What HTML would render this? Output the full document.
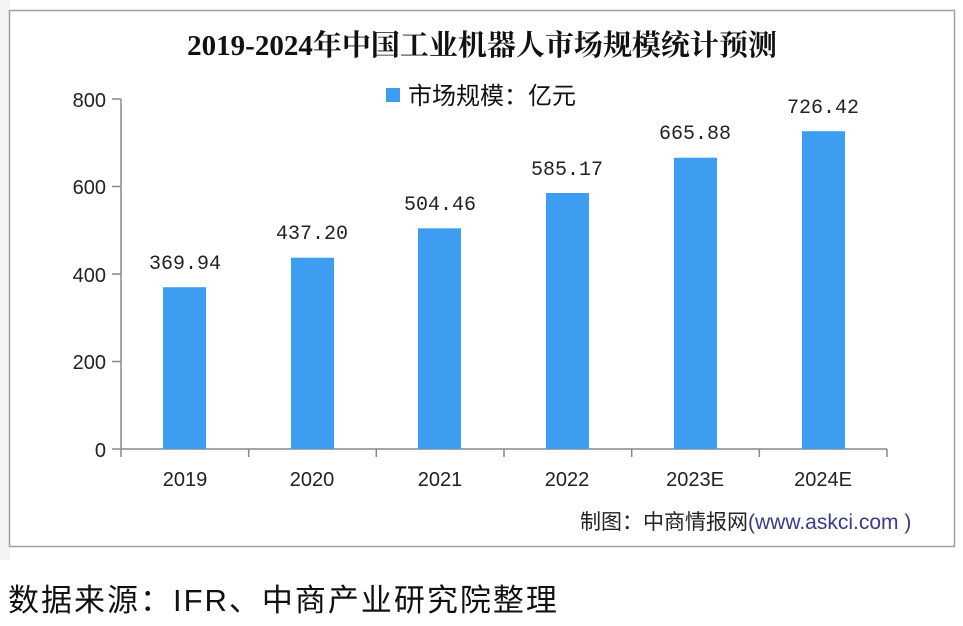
<!DOCTYPE html>
<html><head><meta charset="utf-8"><style>
body{margin:0;width:963px;height:621px;background:#fff;overflow:hidden;font-family:"Liberation Sans","Noto Sans CJK SC",sans-serif}
</style></head><body>
<svg width="963" height="621" xmlns="http://www.w3.org/2000/svg">
<rect x="0" y="0" width="963" height="621" fill="#fff"/>
<rect x="0" y="0" width="10" height="560" fill="#f4f4f4"/>
<rect x="9.5" y="10.5" width="945" height="536" fill="#fff" stroke="#a0a0a0" stroke-width="1.5"/>
<text x="482" y="55" text-anchor="middle" font-family="Liberation Serif,Noto Serif CJK SC,serif" font-weight="bold" font-size="29" fill="#111">2019-2024年中国工业机器人市场规模统计预测</text>
<rect x="386" y="88" width="14" height="14" fill="#3d9df0"/>
<text x="408" y="104" font-size="24" fill="#111">市场规模：亿元</text>
<g stroke="#888" stroke-width="1.5" fill="none">
<line x1="121" y1="99" x2="121" y2="457"/>
<line x1="121" y1="449" x2="887" y2="449"/>
<line x1="112" y1="99" x2="121" y2="99"/><line x1="112" y1="186.5" x2="121" y2="186.5"/>
<line x1="112" y1="274" x2="121" y2="274"/><line x1="112" y1="361.5" x2="121" y2="361.5"/>
<line x1="112" y1="449" x2="121" y2="449"/>
<line x1="248.7" y1="449" x2="248.7" y2="457"/><line x1="376.3" y1="449" x2="376.3" y2="457"/>
<line x1="504" y1="449" x2="504" y2="457"/><line x1="631.7" y1="449" x2="631.7" y2="457"/>
<line x1="759.3" y1="449" x2="759.3" y2="457"/><line x1="887" y1="449" x2="887" y2="457"/>
</g>
<g font-size="20" fill="#222" text-anchor="end">
<text x="106" y="107">800</text><text x="106" y="194">600</text><text x="106" y="282">400</text><text x="106" y="369">200</text><text x="106" y="457">0</text>
</g>
<g fill="#3d9df0">
<rect x="163" y="287.2" width="43" height="161.8"/>
<rect x="291" y="257.7" width="43" height="191.3"/>
<rect x="418" y="228.3" width="43" height="220.7"/>
<rect x="546" y="193" width="43" height="256"/>
<rect x="674" y="157.7" width="43" height="291.3"/>
<rect x="802" y="131.2" width="43" height="317.8"/>
</g>
<g font-family="Liberation Mono,monospace" font-size="20" fill="#222" text-anchor="middle">
<text x="185" y="269">369.94</text><text x="312" y="239">437.20</text><text x="440" y="210">504.46</text>
<text x="567" y="175">585.17</text><text x="695" y="139">665.88</text><text x="823" y="113">726.42</text>
</g>
<g font-size="20" fill="#222" text-anchor="middle">
<text x="185" y="486">2019</text><text x="312" y="486">2020</text><text x="440" y="486">2021</text>
<text x="567" y="486">2022</text><text x="695" y="486">2023E</text><text x="823" y="486">2024E</text>
</g>
<text x="580" y="529" font-size="21" fill="#222">制图：中商情报网<tspan fill="#3a3a8a">(www.askci.com )</tspan></text>
<text x="8" y="611" font-size="31" fill="#111" letter-spacing="2">数据来源：IFR、中商产业研究院整理</text>
</svg>
</body></html>
